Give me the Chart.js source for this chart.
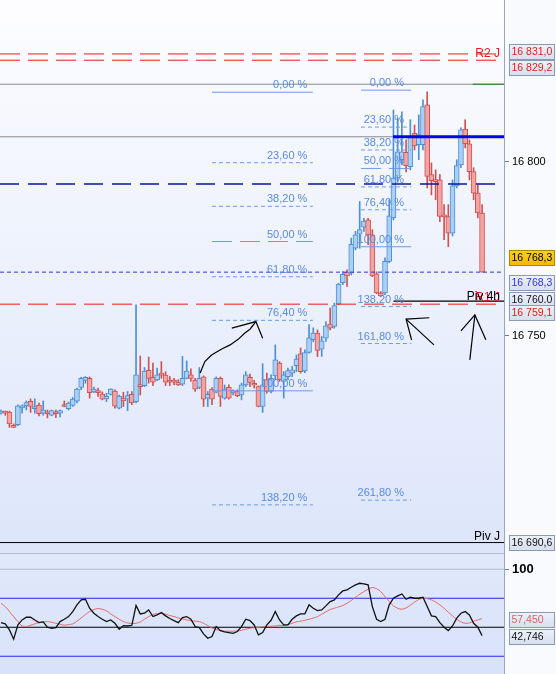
<!DOCTYPE html>
<html>
<head>
<meta charset="utf-8">
<script src="https://cdn.jsdelivr.net/npm/chart.js@4.4.1/dist/chart.umd.min.js"></script>
<style>
  html, body { margin: 0; padding: 0; background: #fafbfe; }
  #wrap { position: relative; width: 556px; height: 674px; overflow: hidden; }
  canvas { position: absolute; left: 0; }
  #main { top: 0; }
  #rsi { top: 553px; }
</style>
</head>
<body>
<div id="wrap">
  <canvas id="main" width="556" height="553"></canvas>
  <canvas id="rsi" width="556" height="121"></canvas>
</div>
<script>
// ---- candles (one per bar, oldest first) ----
const opens = [
  16727.8,16728.0,16728.1,16724.3,16724.5,16729.3,16729.9,16731.2,16729.1,16730.1,
  16727.8,16728.0,16727.2,16728.0,16727.8,16730.0,16729.1,16730.0,16731.2,16735.2,
  16737.2,16737.8,16733.9,16734.3,16733.3,16731.9,16733.2,16734.1,16729.2,16732.1,
  16731.8,16733.2,16731.1,16736.0,16735.7,16740.1,16738.1,16737.3,16739.3,16738.7,
  16737.3,16737.3,16736.7,16736.1,16737.8,16738.8,16737.3,16735.2,16738.2,16732.1,
  16734.7,16733.8,16737.8,16732.1,16735.2,16733.6,16734.0,16733.0,16735.9,16738.1,
  16736.3,16735.4,16729.7,16737.4,16734.0,16738.5,16742.2,16736.9,16738.3,16739.3,
  16741.4,16744.8,16739.9,16745.2,16748.9,16750.8,16746.2,16749.3,16753.4,16752.7,
  16759.1,16765.3,16768.3,16768.0,16775.2,16779.2,16781.2,16783.3,16779.0,16767.8,
  16762.3,16762.3,16771.4,16783.9,16795.4,16800.6,16802.7,16798.6,16808.2,16804.9,
  16804.9,16816.4,16796.3,16794.8,16794.8,16784.8,16784.3,16779.5,16793.1,16799.1,
  16809.4,16805.2,16797.2,16791.0,16785.3
];
const highs = [
  16728.7,16728.4,16728.4,16724.7,16730.2,16730.2,16731.3,16731.9,16731.9,16730.7,
  16731.3,16728.7,16728.7,16728.7,16728.7,16731.3,16731.0,16732.3,16735.0,16738.1,
  16738.3,16738.2,16735.3,16735.0,16733.9,16733.5,16734.8,16734.5,16733.0,16733.8,
  16734.0,16734.0,16758.9,16744.2,16740.9,16743.9,16742.2,16740.7,16742.6,16739.7,
  16738.3,16737.8,16737.4,16744.1,16742.8,16740.5,16737.8,16740.9,16738.5,16734.0,
  16735.1,16738.2,16738.2,16735.9,16735.9,16734.5,16734.5,16736.4,16739.7,16739.0,
  16737.2,16735.6,16742.0,16739.3,16738.8,16747.4,16742.6,16739.7,16740.7,16741.2,
  16744.5,16746.5,16746.0,16753.2,16752.3,16751.7,16749.8,16754.1,16758.0,16759.4,
  16765.1,16768.5,16769.0,16778.1,16780.0,16788.6,16783.8,16783.8,16780.5,16768.4,
  16762.7,16772.4,16789.1,16814.9,16812.6,16814.4,16806.3,16812.1,16810.6,16813.5,
  16817.8,16820.1,16799.7,16797.7,16796.3,16787.7,16787.7,16794.8,16800.6,16809.8,
  16812.1,16806.3,16798.3,16793.4,16787.7
];
const lows = [
  16727.5,16727.2,16723.7,16723.6,16724.2,16727.8,16728.7,16728.0,16727.8,16727.0,
  16727.2,16726.4,16727.0,16726.5,16726.7,16729.6,16728.7,16729.7,16730.7,16734.5,
  16736.4,16732.1,16733.7,16732.6,16731.6,16731.1,16733.0,16729.2,16729.0,16729.7,
  16728.5,16730.2,16730.7,16733.0,16735.4,16736.4,16735.7,16737.1,16737.8,16735.7,
  16735.7,16735.9,16735.7,16735.7,16737.6,16736.9,16734.0,16734.8,16729.7,16729.7,
  16730.2,16733.6,16729.7,16731.8,16731.8,16733.0,16732.5,16731.6,16735.4,16735.4,
  16735.0,16729.6,16728.0,16733.5,16733.6,16737.4,16736.9,16732.1,16737.4,16738.3,
  16739.7,16739.3,16739.4,16745.0,16748.3,16744.0,16744.1,16748.4,16751.7,16752.2,
  16758.9,16764.7,16764.2,16767.5,16774.7,16775.2,16780.0,16776.2,16767.0,16762.1,
  16761.3,16761.8,16771.0,16783.3,16794.2,16799.1,16797.1,16797.7,16803.4,16800.6,
  16803.4,16792.5,16790.5,16789.1,16782.8,16777.6,16775.6,16778.7,16792.5,16798.3,
  16804.0,16794.8,16789.1,16783.9,16768.3
];
const closes = [
  16728.4,16727.8,16724.7,16723.7,16729.9,16729.9,16730.8,16729.7,16729.7,16727.6,
  16728.7,16727.6,16728.5,16727.6,16728.5,16729.7,16730.7,16731.8,16734.7,16737.8,
  16738.1,16733.7,16734.7,16733.7,16731.8,16732.6,16734.7,16729.8,16732.7,16731.3,
  16732.8,16730.7,16738.8,16735.4,16739.9,16737.8,16736.7,16738.8,16738.7,16736.7,
  16736.7,16736.7,16735.9,16737.8,16739.9,16737.8,16734.7,16737.8,16731.8,16733.2,
  16731.8,16737.8,16732.6,16734.7,16732.1,16734.0,16732.8,16735.9,16738.8,16736.6,
  16735.8,16729.7,16735.9,16734.0,16737.8,16743.1,16737.4,16738.8,16740.0,16740.2,
  16743.3,16739.7,16745.2,16749.4,16750.8,16745.8,16748.6,16752.9,16752.2,16758.7,
  16764.9,16767.7,16767.2,16776.3,16779.0,16780.5,16783.0,16779.0,16767.2,16762.3,
  16761.5,16771.4,16784.5,16795.3,16802.9,16802.9,16798.9,16807.3,16804.6,16807.8,
  16815.9,16795.8,16794.6,16794.3,16784.3,16784.2,16779.5,16793.1,16798.9,16809.2,
  16805.2,16797.2,16791.0,16785.3,16768.3
];

// ---- RSI panel ----
const rsi = [
  54.0,52.9,47.7,39.7,52.0,56.3,58.6,58.6,56.3,54.0,
  54.6,50.0,49.1,49.7,54.9,56.9,59.2,63.5,69.3,73.6,
  74.1,66.4,62.1,59.2,56.9,54.9,56.3,53.4,48.3,51.4,
  51.1,51.7,68.7,61.5,62.1,64.9,59.2,60.6,62.6,59.8,
  57.5,55.7,54.0,58.3,59.2,56.9,50.6,49.7,44.3,40.5,
  42.0,50.6,47.1,46.0,45.4,44.8,46.3,50.6,56.9,55.7,
  52.0,43.4,45.4,52.0,56.0,63.5,56.3,52.0,52.0,56.9,
  59.8,61.5,61.5,69.3,66.4,64.4,64.9,68.4,72.1,73.6,
  77.9,81.3,82.2,84.5,86.5,87.9,87.4,86.5,67.8,56.9,
  54.9,56.9,69.3,75.0,77.0,78.7,74.1,75.9,75.0,75.0,
  75.9,67.8,59.8,59.2,54.0,50.0,47.1,51.1,57.8,62.1,
  63.5,60.6,53.4,50.0,42.746
];
const rsiMa = [
  70.7,67.8,63.5,59.2,54.9,51.1,50.6,51.7,52.9,54.0,
  54.6,54.9,54.3,53.4,52.6,51.7,52.3,52.9,55.2,58.0,
  60.9,63.5,65.2,66.1,65.5,64.1,61.5,59.2,56.9,54.9,
  53.7,53.2,53.4,54.6,56.9,59.2,60.9,61.8,62.1,61.2,
  60.1,59.2,58.0,57.2,56.3,55.7,55.2,54.9,53.4,51.4,
  49.4,48.0,47.1,46.6,46.6,46.6,46.8,47.4,48.3,49.1,
  49.7,50.0,50.3,50.6,50.9,51.1,51.7,51.4,52.3,53.4,
  54.6,55.2,56.0,56.9,57.8,59.2,61.2,63.2,65.2,66.4,
  67.5,68.7,70.7,73.0,75.9,78.4,80.7,82.8,84.2,83.3,
  80.7,76.4,72.1,68.4,66.4,65.5,66.7,69.0,71.6,73.9,
  75.0,74.7,73.6,71.8,69.3,66.4,62.9,59.8,56.9,54.6,
  53.4,53.7,55.2,56.3,57.45
];
const rsiLevels = [100, 75, 50, 25];
const rsiTicks = [100];

// ---- levels ----
const priceTicks = [16750, 16800];
const r2Levels = [16831.0, 16829.2];
const r1Level = 16759.1;
const piv4h = 16760.0;
const pivJ = 16690.6;
const lastPrice = 16768.3;
const greyLevels = [16822.3, 16807.2];
const darkDashLevel = 16793.6;

// fibonacci A (left) and B (right)
const fibAHigh = 16820.0, fibALow = 16734.2;
const fibARatios = [0, 23.6, 38.2, 50, 61.8, 76.4, 100, 138.2];
const fibBHigh = 16820.6, fibBLow = 16775.6;
const fibBRatios = [0, 23.6, 38.2, 50, 61.8, 76.4, 100, 138.2, 161.8, 261.8];

// hand-drawn arrows, [bar index, price]
const sketch1 = [[47.2,16739.3],[48.3,16742.6],[49.9,16744.5],[52.3,16746.2],[54.3,16747.4],[56.2,16749.0],[57.8,16750.8],[59.0,16751.9],[60.4,16754.1]];
const sketch1Head = [[54.7,16752.2],[60.4,16754.1],[62.0,16749.3]];
const sketch2Head = [[101.5,16755.2],[96.0,16754.8],[97.3,16748.8]];
const sketch2Shaft = [[96.0,16754.8],[102.6,16747.4]];
const sketch3Head = [[109.0,16751.4],[112.3,16756.0],[114.9,16748.9]];
const sketch3Stem = [[112.3,16756.0],[111.1,16743.1]];

// ---- layout ----
const FONT = '"Liberation Sans", Arial, sans-serif';
const xMin = -0.24, xMax = 119.2;
const priceMin = 16687.6, priceMax = 16846.5;
const rsiMin = 9.7, rsiMax = 114.0;
const fibAFrom = 50.0, fibATo = 73.9, fibALabelX = 72.6;
const fibBFrom = 85.3, fibBTo = 97.2, fibBLabelX = 95.5;

const upFill = '#a9d0f3', upLine = '#4e8fd3';
const downFill = '#f4a3a3', downLine = '#cf5252';
const fibColor = '#6b9be9', fibText = '#5a8be0';
const red = '#ee1a1a';

const idx = opens.map((o, i) => i);
const isUp = idx.map(i => closes[i] >= opens[i]);

function hline(value, from, to, color, width, dash, order) {
  return {
    type: 'line',
    data: [{ x: from, y: value }, { x: to, y: value }],
    borderColor: color, borderWidth: width, borderDash: dash || [],
    pointRadius: 0, tension: 0, order: order === undefined ? 0 : order
  };
}
function sketch(points) {
  return {
    type: 'line',
    data: points.map(p => ({ x: p[0], y: p[1] })),
    borderColor: '#000', borderWidth: 1.2, pointRadius: 0, tension: 0, order: -2
  };
}
function fibPrice(hi, lo, r) { return hi - r / 100 * (hi - lo); }
function fibDash(r) { return (r === 0 || r === 100) ? [] : (r === 50 ? [20, 8] : [4, 3]); }
function fibLabel(r) { return r.toFixed(2).replace('.', ',') + ' %'; }
function spaced(v) { return String(v).replace(/\B(?=(\d{3})+(?!\d))/g, ' '); }
function fixAxis(ax) {
  ax.width = 52;
  ax.paddingTop = 0;
  ax.paddingBottom = 0;
}

const datasets = [];
r2Levels.forEach(v => datasets.push(hline(v, xMin, xMax, red, 1, [20, 8])));
datasets.push(hline(greyLevels[0], xMin, xMax, '#8a8a8a', 1));
datasets.push(hline(greyLevels[0], 111.8, xMax, '#1f7a1f', 1, [], -1));
datasets.push(hline(greyLevels[1], xMin, xMax, '#8a8a8a', 1));
datasets.push(hline(greyLevels[1], 92.9, xMax, '#0000ee', 3, [], -1));
datasets.push(hline(darkDashLevel, xMin, xMax, '#0b159e', 1.5, [19, 9]));
datasets.push(hline(lastPrice, xMin, xMax, '#3434d6', 1, [4, 3]));
datasets.push(hline(r1Level, xMin, xMax, red, 1, [20, 8]));
datasets.push(hline(piv4h, 93, xMax, '#000', 1.2, [], -1));
datasets.push(hline(pivJ, xMin, xMax, '#000', 1));
fibARatios.forEach(r => datasets.push(hline(fibPrice(fibAHigh, fibALow, r), fibAFrom, fibATo, fibColor, 1, fibDash(r))));
fibBRatios.forEach(r => datasets.push(hline(fibPrice(fibBHigh, fibBLow, r), fibBFrom, fibBTo, fibColor, 1, fibDash(r))));
[sketch1, sketch1Head, sketch2Head, sketch2Shaft, sketch3Head, sketch3Stem].forEach(s => datasets.push(sketch(s)));

datasets.push({
  type: 'bar', order: 3, grouped: false, barThickness: 1,
  data: idx.map(i => ({ x: i, y: [lows[i], highs[i]] })),
  backgroundColor: idx.map(i => isUp[i] ? upLine : downLine), borderWidth: 0
});
datasets.push({
  type: 'bar', order: 2, grouped: false, barThickness: 5, minBarLength: 2,
  data: idx.map(i => ({ x: i, y: [opens[i], closes[i]] })),
  backgroundColor: idx.map(i => isUp[i] ? upFill : downFill),
  borderColor: idx.map(i => isUp[i] ? upLine : downLine),
  borderWidth: 1, borderSkipped: false
});

function drawBox(ctx, y, text, color, yellow) {
  const x = 509, w = 46, h = 16, top = Math.round(y - h / 2);
  const g = ctx.createLinearGradient(0, top, 0, top + h);
  if (yellow) { g.addColorStop(0, '#ffd21a'); g.addColorStop(1, '#f0b800'); }
  else { g.addColorStop(0, '#eef2fa'); g.addColorStop(1, '#d6deed'); }
  ctx.fillStyle = g;
  ctx.fillRect(x, top, w, h);
  ctx.strokeStyle = yellow ? '#b08800' : '#8b9ab3';
  ctx.lineWidth = 1;
  ctx.strokeRect(x + 0.5, top + 0.5, w - 1, h - 1);
  ctx.fillStyle = color;
  ctx.font = '10.5px ' + FONT;
  ctx.textAlign = 'left';
  ctx.textBaseline = 'middle';
  ctx.fillText(text, x + 2.5, top + h / 2 + 0.5);
}

const priceBoxes = [
  { v: r2Levels[0], text: '16 831,0', color: red, dy: -2 },
  { v: r2Levels[1], text: '16 829,2', color: red, dy: 8 },
  { v: lastPrice, text: '16 768,3', color: '#000', dy: -14, yellow: true },
  { v: lastPrice, text: '16 768,3', color: '#3434e0', dy: 11 },
  { v: piv4h, text: '16 760.0', color: '#111', dy: -1.5 },
  { v: r1Level, text: '16 759,1', color: red, dy: 9 },
  { v: pivJ, text: '16 690,6', color: '#111', dy: 0 }
];
const levelNames = [
  { v: r2Levels[0], text: 'R2 J', color: red, dy: 3 },
  { v: r1Level, text: 'R1 J', color: red, dy: -3 },
  { v: piv4h, text: 'Piv 4h', color: '#000', dy: -1.5 },
  { v: pivJ, text: 'Piv J', color: '#000', dy: -2.5 }
];

const mainDecor = {
  id: 'mainDecor',
  beforeDraw(chart) {
    const { ctx, chartArea: a } = chart;
    ctx.save();
    ctx.fillStyle = '#f9fafe';
    ctx.fillRect(0, 0, chart.width, chart.height);
    const g = ctx.createLinearGradient(0, a.top, 0, a.bottom);
    g.addColorStop(0, '#fdfdff');
    g.addColorStop(1, '#dce5fa');
    ctx.fillStyle = g;
    ctx.fillRect(a.left, a.top, a.right - a.left, a.bottom - a.top);
    ctx.restore();
  },
  afterDatasetsDraw(chart) {
    const { ctx } = chart;
    const xs = chart.scales.x, ys = chart.scales.y;
    ctx.save();
    ctx.font = '11px ' + FONT;
    ctx.fillStyle = fibText;
    ctx.textAlign = 'right';
    ctx.textBaseline = 'alphabetic';
    fibARatios.forEach(r => ctx.fillText(fibLabel(r), xs.getPixelForValue(fibALabelX), ys.getPixelForValue(fibPrice(fibAHigh, fibALow, r)) - 4));
    fibBRatios.forEach(r => ctx.fillText(fibLabel(r), xs.getPixelForValue(fibBLabelX), ys.getPixelForValue(fibPrice(fibBHigh, fibBLow, r)) - 4));
    ctx.font = '12px ' + FONT;
    levelNames.forEach(l => {
      ctx.fillStyle = l.color;
      ctx.fillText(l.text, 500, ys.getPixelForValue(l.v) + l.dy);
    });
    ctx.restore();
  },
  afterDraw(chart) {
    const { ctx } = chart;
    const ys = chart.scales.y;
    ctx.save();
    priceBoxes.forEach(b => drawBox(ctx, ys.getPixelForValue(b.v) + b.dy, b.text, b.color, b.yellow));
    ctx.restore();
  }
};

new Chart(document.getElementById('main'), {
  type: 'bar',
  data: { datasets },
  options: {
    responsive: false, animation: false, devicePixelRatio: 1,
    layout: { padding: 0 },
    plugins: { legend: { display: false }, tooltip: { enabled: false } },
    scales: {
      x: { type: 'linear', min: xMin, max: xMax, offset: false, display: false },
      y: {
        position: 'right', min: priceMin, max: priceMax,
        afterBuildTicks: ax => { ax.ticks = priceTicks.map(v => ({ value: v })); },
        afterFit: fixAxis,
        ticks: { callback: v => spaced(v), color: '#000', font: { family: FONT, size: 11 }, padding: 3 },
        grid: { drawOnChartArea: false, drawTicks: true, tickLength: 5, color: '#6f7a8c' },
        border: { display: true, color: '#9aa6ba' }
      }
    }
  },
  plugins: [mainDecor]
});

// ---- RSI chart ----
const rsiLevelColors = { 100: '#b7c0d2', 75: '#2424e6', 50: '#000', 25: '#2424e6' };
const rsiDatasets = rsiLevels.map(v => ({
  data: [{ x: xMin, y: v }, { x: xMax, y: v }],
  borderColor: rsiLevelColors[v], borderWidth: 1.2, pointRadius: 0, order: 3
}));
rsiDatasets.push({
  data: idx.map(i => ({ x: i, y: rsiMa[i] })),
  borderColor: '#e66a6a', borderWidth: 1, pointRadius: 0, tension: 0.3, order: 2
});
rsiDatasets.push({
  data: idx.map(i => ({ x: i, y: rsi[i] })),
  borderColor: '#111', borderWidth: 1.3, pointRadius: 0, tension: 0, order: 1
});

const rsiBoxes = [
  { v: rsiMa[rsiMa.length - 1], text: '57,450', color: '#e46060', dy: 1.5 },
  { v: rsi[rsi.length - 1], text: '42,746', color: '#111', dy: 1 }
];

const rsiDecor = {
  id: 'rsiDecor',
  beforeDraw(chart) {
    const { ctx, chartArea: a } = chart;
    ctx.save();
    ctx.fillStyle = '#f9fafe';
    ctx.fillRect(0, 0, chart.width, chart.height);
    const g = ctx.createLinearGradient(0, a.top, 0, a.bottom);
    g.addColorStop(0, '#e0e8fb');
    g.addColorStop(1, '#d8e2f9');
    ctx.fillStyle = g;
    ctx.fillRect(a.left, a.top, a.right - a.left, a.bottom - a.top);
    ctx.strokeStyle = '#b3bccd';
    ctx.beginPath();
    ctx.moveTo(0, 0.5);
    ctx.lineTo(a.right, 0.5);
    ctx.stroke();
    ctx.restore();
  },
  afterDraw(chart) {
    const { ctx } = chart;
    const ys = chart.scales.y;
    ctx.save();
    rsiBoxes.forEach(b => drawBox(ctx, ys.getPixelForValue(b.v) + b.dy, b.text, b.color, false));
    ctx.restore();
  }
};

new Chart(document.getElementById('rsi'), {
  type: 'line',
  data: { datasets: rsiDatasets },
  options: {
    responsive: false, animation: false, devicePixelRatio: 1,
    layout: { padding: 0 },
    plugins: { legend: { display: false }, tooltip: { enabled: false } },
    scales: {
      x: { type: 'linear', min: xMin, max: xMax, offset: false, display: false },
      y: {
        position: 'right', min: rsiMin, max: rsiMax,
        afterBuildTicks: ax => { ax.ticks = rsiTicks.map(v => ({ value: v })); },
        afterFit: fixAxis,
        ticks: { color: '#000', font: { family: FONT, size: 13, weight: 'bold' }, padding: 3 },
        grid: { drawOnChartArea: false, drawTicks: true, tickLength: 5, color: '#6f7a8c' },
        border: { display: true, color: '#9aa6ba' }
      }
    }
  },
  plugins: [rsiDecor]
});
</script>
</body>
</html>
